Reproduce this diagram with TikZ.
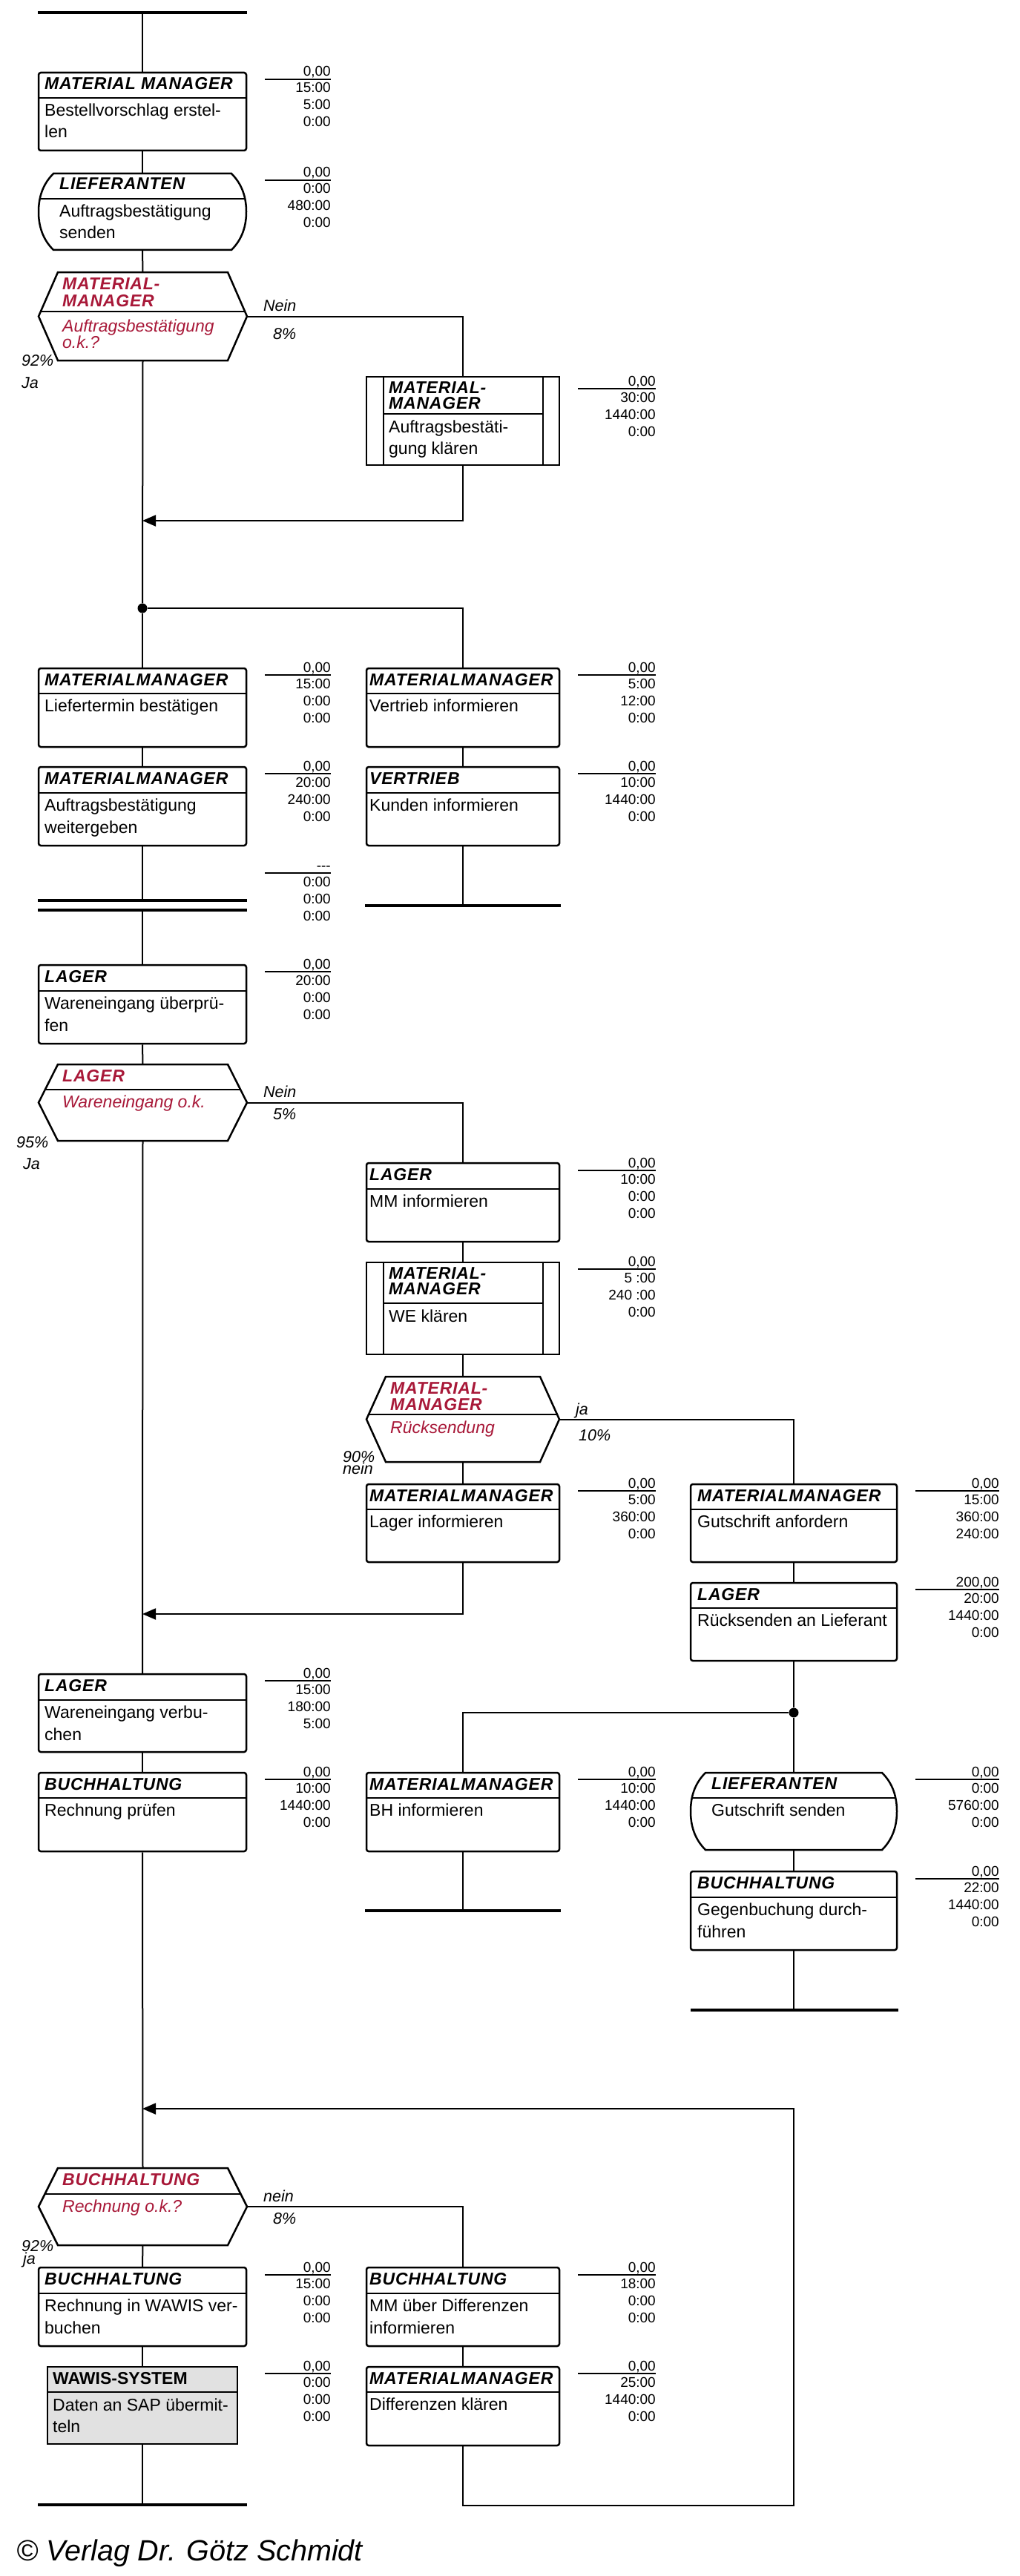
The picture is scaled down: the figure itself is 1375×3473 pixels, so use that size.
\documentclass[tikz,border=0pt]{standalone}
\usepackage{fontspec}
\setmainfont{Liberation Sans}
\newfontfamily\hdrfam[LetterSpace=3.5]{Liberation Sans}
\usetikzlibrary{arrows.meta,fit}
\definecolor{decred}{RGB}{168,24,56}
\definecolor{wgray}{RGB}{225,225,225}
\tikzset{
  conn/.style={line width=2pt},
  arr/.style={conn, -{Triangle[length=18pt,width=15pt]}},
  bx/.style={draw, line width=2.5pt, rounded corners=3pt, inner sep=0pt, fill=white},
  bxl/.style={line width=2.5pt},
  divl/.style={line width=2.5pt},
  endbar/.style={line width=3.5pt},
  tline/.style={line width=2pt},
  hdr/.style={anchor=base west, inner sep=0pt, font={\hdrfam\bfseries\itshape\fontsize{23}{22}\selectfont}},
  bodyt/.style={anchor=base west, inner sep=0pt, font={\fontsize{23}{29.5}\selectfont}},
  dech/.style={hdr, text=decred},
  decb/.style={anchor=base west, inner sep=0pt, text=decred, font={\itshape\fontsize{23}{22}\selectfont}},
  tm/.style={anchor=base east, inner sep=0pt, font={\fontsize{19}{23}\selectfont}},
  lbl/.style={anchor=base west, inner sep=0pt, font={\itshape\fontsize{21.5}{22}\selectfont}},
  dot/.style={circle, fill, inner sep=0pt, minimum size=13pt},
}
\newcommand\two[2]{\vtop{\hbox{#1}\hbox{#2}}}
% name, xl, xr, ytop, ybot, ydiv, textx, header, body
\newcommand\abox[9]{%
  \node[bx, fit={(#2,#4) (#3,#5)}] (#1) {};
  \draw[divl] (#2,#6) -- (#3,#6);
  \node[hdr] (#1h) at (#7,#4+23) {#8};
  \node[bodyt] (#1b) at (#7,#6+24.5) {#9};
}
% name, xl, xr, yline, v1..v4
\newcommand\tblk[8]{%
  \draw[tline] (#2,#4) -- (#3,#4);
  \node[tm] (#1a) at (#3,#4-4) {#5};
  \node[tm] (#1b) at (#3,#4+18) {#6};
  \node[tm] (#1c) at (#3,#4+41) {#7};
  \node[tm] (#1d) at (#3,#4+64) {#8};
}
% subprocess: name, xl, xr, ytop, ybot, ydiv, header, body
\newcommand\spbox[8]{%
  \node[bx, rounded corners=0pt, fit={(#2,#4) (#3,#5)}] (#1) {};
  \draw[bxl] (#2+23,#4) -- (#2+23,#5) (#3-22,#4) -- (#3-22,#5);
  \draw[divl] (#2+23,#6) -- (#3-22,#6);
  \node[hdr] (#1h) at (#2+30,#4+22) {#7};
  \node[bodyt] (#1b) at (#2+30,#6+25) {#8};
}
% decision: name, xl, xr, ytop, ybot, ydiv, header, body, body baseline
\newcommand\decn[9]{%
  \node[inner sep=0pt, fit={(#2,#4) (#3,#5)}] (#1) {};
  \draw[bxl, line join=miter, fill=white] (#2+26,#4) -- (#3-26,#4) -- (#3,{(#4+#5)/2}) -- (#3-26,#5) -- (#2+26,#5) -- (#2,{(#4+#5)/2}) -- cycle;
  \draw[divl] ({#2+26-52*(#6-#4)/(#5-#4)},#6) -- ({#3-26+52*(#6-#4)/(#5-#4)},#6);
  \node[dech] (#1h) at (#2+32,#4+23) {#7};
  \node[decb] (#1b) at (#2+32,#9) {#8};
}
% barrel: name, xl, xr, ytop, ybot, ydiv, header, body
\newcommand\brl[8]{%
  \node[inner sep=0pt, fit={(#2,#4) (#3,#5)}] (#1) {};
  \draw[bxl, fill=white] (#2+20,#4) -- (#3-20,#4)
     .. controls (#3-5,#4+15) and (#3,#4+33) .. (#3,{(#4+#5)/2})
     .. controls (#3,#5-33) and (#3-5,#5-15) .. (#3-20,#5)
     -- (#2+20,#5)
     .. controls (#2+5,#5-15) and (#2,#5-33) .. (#2,{(#4+#5)/2})
     .. controls (#2,#4+33) and (#2+5,#4+15) .. (#2+20,#4) -- cycle;
  \draw[divl] (#2+3,#6) -- (#3-3,#6);
  \node[hdr] (#1h) at (#2+28,#4+22) {#7};
  \node[bodyt] (#1b) at (#2+28,#6+24.5) {#8};
}
\begin{document}
\begin{tikzpicture}[x=1pt,y=-1pt]
\useasboundingbox (0,0) rectangle (1375,3473);

% ---------- coordinates ----------
\coordinate (s0) at (192,17);
\coordinate (c1) at (192,702);
\coordinate (e1) at (624,1221);
\coordinate (d1) at (192,1214);
\coordinate (d2) at (192,1227);
\coordinate (c2) at (192,2176);
\coordinate (e2) at (624,2576);
\coordinate (e3) at (1070,2710);
\coordinate (c4) at (192,2843);
\coordinate (c3) at (1070,3378);
\coordinate (e4) at (192,3377);

% ---------- bars ----------
\draw[endbar] (51,17) -- (333,17);
\draw[endbar] (492,1221) -- (756,1221);
\draw[endbar] (51,1214) -- (333,1214);
\draw[endbar] (51,1227) -- (333,1227);
\draw[endbar] (492,2576) -- (756,2576);
\draw[endbar] (931,2710) -- (1211,2710);
\draw[endbar] (51,3377) -- (333,3377);

% ---------- elements ----------
\abox{b1}{52}{332}{98}{203}{132}{60}{MATERIAL MANAGER}{\two{Bestellvorschlag erstel-}{len}}
\tblk{t1}{357}{446}{107}{0,00}{15:00}{5:00}{0:00}

\brl{b2}{52}{332}{234}{337}{268}{LIEFERANTEN}{\two{Auftragsbestätigung}{senden}}
\tblk{t2}{357}{446}{243}{0,00}{0:00}{480:00}{0:00}

\decn{h1}{52}{333}{367}{486}{420}{\vtop{\baselineskip=23pt\hbox{MATERIAL-}\hbox{MANAGER}}}{\vtop{\baselineskip=22pt\hbox{Auftragsbestätigung}\hbox{o.k.?}}}{447}
\node[lbl] (l1a) at (355,419) {Nein};
\node[lbl] (l1b) at (368,457) {8\%};
\node[lbl] (l1c) at (29,493) {92\%};
\node[lbl] (l1d) at (29,523) {Ja};

\spbox{b3}{494}{754}{508}{627}{558}{\vtop{\baselineskip=21.5pt\hbox{MATERIAL-}\hbox{MANAGER}}}{\two{Auftragsbestäti-}{gung klären}}
\tblk{t3}{779}{884}{524}{0,00}{30:00}{1440:00}{0:00}

\node[dot] (j1) at (192,820) {};

\abox{L1}{52}{332}{901}{1007}{935}{60}{MATERIALMANAGER}{Liefertermin bestätigen}
\tblk{t4}{357}{446}{910}{0,00}{15:00}{0:00}{0:00}
\abox{R1}{494}{754}{901}{1007}{935}{498}{MATERIALMANAGER}{Vertrieb informieren}
\tblk{t5}{779}{884}{910}{0,00}{5:00}{12:00}{0:00}

\abox{L2}{52}{332}{1034}{1140}{1069}{60}{MATERIALMANAGER}{\two{Auftragsbestätigung}{weitergeben}}
\tblk{t6}{357}{446}{1043}{0,00}{20:00}{240:00}{0:00}
\abox{R2}{494}{754}{1034}{1140}{1069}{498}{VERTRIEB}{Kunden informieren}
\tblk{t7}{779}{884}{1043}{0,00}{10:00}{1440:00}{0:00}

\tblk{t8}{357}{446}{1177}{-{}-{}-}{0:00}{0:00}{0:00}

\abox{L3}{52}{332}{1301}{1407}{1336}{60}{LAGER}{\two{Wareneingang überprü-}{fen}}
\tblk{t9}{357}{446}{1310}{0,00}{20:00}{0:00}{0:00}

\decn{h2}{52}{333}{1435}{1538}{1469}{LAGER}{Wareneingang o.k.}{1493}
\node[lbl] (l2a) at (355,1479) {Nein};
\node[lbl] (l2b) at (368,1509) {5\%};
\node[lbl] (l2c) at (22,1547) {95\%};
\node[lbl] (l2d) at (31,1576) {Ja};

\abox{M1}{494}{754}{1568}{1674}{1603}{498}{LAGER}{MM informieren}
\tblk{t10}{779}{884}{1578}{0,00}{10:00}{0:00}{0:00}

\spbox{M2}{494}{754}{1702}{1826}{1757}{\vtop{\baselineskip=21.5pt\hbox{MATERIAL-}\hbox{MANAGER}}}{WE klären}
\tblk{t11}{779}{884}{1711}{0,00}{5 :00}{240 :00}{0:00}

\decn{h3}{494}{754}{1856}{1971}{1907}{\vtop{\baselineskip=22pt\hbox{MATERIAL-}\hbox{MANAGER}}}{Rücksendung}{1932}
\node[lbl] (l3a) at (776,1907) {ja};
\node[lbl] (l3b) at (780,1942) {10\%};
\node[lbl] (l3c) at (462,1971) {90\%};
\node[lbl] (l3d) at (462,1987) {nein};

\abox{M3}{494}{754}{2001}{2106}{2035}{498}{MATERIALMANAGER}{Lager informieren}
\tblk{t12}{779}{884}{2010}{0,00}{5:00}{360:00}{0:00}
\abox{R3}{931}{1209}{2001}{2106}{2035}{940}{MATERIALMANAGER}{Gutschrift anfordern}
\tblk{t13}{1234}{1347}{2010}{0,00}{15:00}{360:00}{240:00}

\abox{R4}{931}{1209}{2134}{2239}{2168}{940}{LAGER}{Rücksenden an Lieferant}
\tblk{t14}{1234}{1347}{2143}{200,00}{20:00}{1440:00}{0:00}

\abox{L4}{52}{332}{2257}{2362}{2292}{60}{LAGER}{\two{Wareneingang verbu-}{chen}}
\tblk{t15}{357}{446}{2266}{0,00}{15:00}{180:00}{5:00}

\node[dot] (j2) at (1070,2309) {};

\abox{L5}{52}{332}{2390}{2496}{2424}{60}{BUCHHALTUNG}{Rechnung prüfen}
\tblk{t16}{357}{446}{2399}{0,00}{10:00}{1440:00}{0:00}
\abox{M4}{494}{754}{2390}{2496}{2424}{498}{MATERIALMANAGER}{BH informieren}
\tblk{t17}{779}{884}{2399}{0,00}{10:00}{1440:00}{0:00}
\brl{R5}{931}{1209}{2390}{2494}{2424}{LIEFERANTEN}{Gutschrift senden}
\tblk{t18}{1234}{1347}{2399}{0,00}{0:00}{5760:00}{0:00}

\abox{R6}{931}{1209}{2523}{2629}{2558}{940}{BUCHHALTUNG}{\two{Gegenbuchung durch-}{führen}}
\tblk{t19}{1234}{1347}{2533}{0,00}{22:00}{1440:00}{0:00}

\decn{h4}{52}{333}{2923}{3027}{2958}{BUCHHALTUNG}{Rechnung o.k.?}{2982}
\node[lbl] (l4a) at (355,2968) {nein};
\node[lbl] (l4b) at (368,2998) {8\%};
\node[lbl] (l4c) at (29,3035) {92\%};
\node[lbl] (l4d) at (31,3052) {ja};

\abox{L6}{52}{332}{3057}{3163}{3092}{60}{BUCHHALTUNG}{\two{Rechnung in WAWIS ver-}{buchen}}
\tblk{t20}{357}{446}{3067}{0,00}{15:00}{0:00}{0:00}
\abox{M5}{494}{754}{3057}{3163}{3092}{498}{BUCHHALTUNG}{\two{MM über Differenzen}{informieren}}
\tblk{t21}{779}{884}{3067}{0,00}{18:00}{0:00}{0:00}

\node[bx, fill=wgray, rounded corners=0pt, fit={(64,3191) (320,3295)}] (L7) {};
\draw[divl] (64,3225) -- (320,3225);
\node[hdr, font={\bfseries\fontsize{23}{22}\selectfont}] (L7h) at (71,3214) {WAWIS-SYSTEM};
\node[bodyt] (L7b) at (71,3250) {\two{Daten an SAP übermit-}{teln}};
\tblk{t22}{357}{446}{3200}{0,00}{0:00}{0:00}{0:00}
\abox{M6}{494}{754}{3191}{3297}{3225}{498}{MATERIALMANAGER}{Differenzen klären}
\tblk{t23}{779}{884}{3200}{0,00}{25:00}{1440:00}{0:00}

\node[anchor=base west, inner sep=0pt, font={\itshape\fontsize{39.5}{41}\selectfont}] (copy) at (22,3452) {© Verlag Dr. Götz Schmidt};

% ---------- connectors ----------
\draw[conn] (s0) -- (b1.north);
\draw[conn] (b1.south) -- (b2.north);
\draw[conn] (b2.south) -- (h1.north);
\draw[conn] (h1.east) -| (b3.north);
\draw[arr] (b3.south) |- (c1);
\draw[conn] (h1.south) -- (j1);
\draw[conn] (j1) -- (L1.north);
\draw[conn] (j1) -| (R1.north);
\draw[conn] (L1.south) -- (L2.north);
\draw[conn] (R1.south) -- (R2.north);
\draw[conn] (R2.south) -- (e1);
\draw[conn] (L2.south) -- (d1);
\draw[conn] (d2) -- (L3.north);
\draw[conn] (L3.south) -- (h2.north);
\draw[conn] (h2.east) -| (M1.north);
\draw[conn] (M1.south) -- (M2.north);
\draw[conn] (M2.south) -- (h3.north);
\draw[conn] (h3.south) -- (M3.north);
\draw[conn] (h3.east) -| (R3.north);
\draw[arr] (M3.south) |- (c2);
\draw[conn] (h2.south) -- (L4.north);
\draw[conn] (R3.south) -- (R4.north);
\draw[conn] (R4.south) -- (j2);
\draw[conn] (j2) -- (R5.north);
\draw[conn] (j2) -| (M4.north);
\draw[conn] (M4.south) -- (e2);
\draw[conn] (R5.south) -- (R6.north);
\draw[conn] (R6.south) -- (e3);
\draw[conn] (L4.south) -- (L5.north);
\draw[conn] (L5.south) -- (h4.north);
\draw[conn] (h4.south) -- (L6.north);
\draw[conn] (h4.east) -| (M5.north);
\draw[conn] (L6.south) -- (L7.north);
\draw[conn] (L7.south) -- (e4);
\draw[conn] (M5.south) -- (M6.north);
\draw[arr] (M6.south) |- (c3) |- (c4);
\end{tikzpicture}
\end{document}
